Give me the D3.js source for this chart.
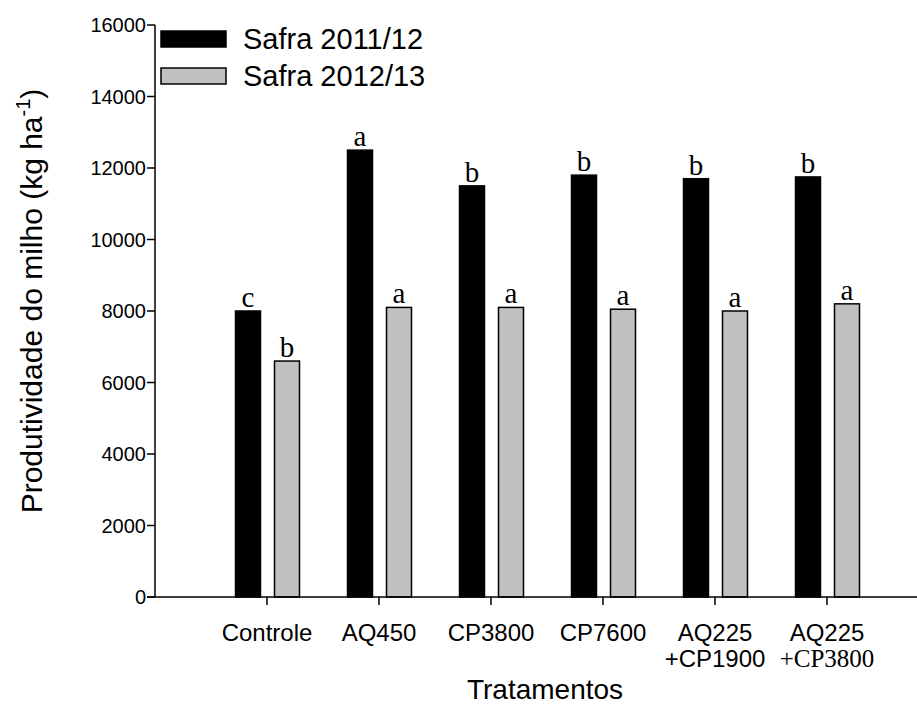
<!DOCTYPE html>
<html>
<head>
<meta charset="utf-8">
<script src="https://cdn.jsdelivr.net/npm/d3@7"></script>
<style>
  body { margin: 0; background: #fff; }
  svg { display: block; }
  text { font-family: Arial, "Liberation Sans", sans-serif; fill: #000; }
  .serif { font-family: "Times New Roman", "Liberation Serif", serif; }
</style>
</head>
<body>
<svg id="chart" width="917" height="706"></svg>
<script>
// data
const categories = ["Controle", "AQ450", "CP3800", "CP7600", "AQ225\n+CP1900", "AQ225\n+CP3800"];
const safra2011 = [8000, 12500, 11500, 11800, 11700, 11750];
const safra2012 = [6600, 8100, 8100, 8050, 8000, 8200];
const letters2011 = ["c", "a", "b", "b", "b", "b"];
const letters2012 = ["b", "a", "a", "a", "a", "a"];
const seriesNames = ["Safra 2011/12", "Safra 2012/13"];
const seriesColors = ["#000000", "#c0c0c0"];
const yTicks = [0, 2000, 4000, 6000, 8000, 10000, 12000, 14000, 16000];

const svg = d3.select("#chart");
const W = 917;

const x = d3.scaleLinear().domain([0, 7]).range([155, 939]);
const y = d3.scaleLinear().domain([0, 16000]).range([597, 25]);
const barW = 25;
const offsets = [-19, 20];

// bars
const series = [safra2011, safra2012];
const letterSets = [letters2011, letters2012];
series.forEach((vals, s) => {
    svg.append("g").selectAll("rect")
        .data(vals)
        .join("rect")
        .attr("x", (d, i) => x(i + 1) + offsets[s] - barW / 2)
        .attr("y", d => y(d))
        .attr("width", barW)
        .attr("height", d => y(0) - y(d))
        .attr("fill", seriesColors[s])
        .attr("stroke", "#000")
        .attr("stroke-width", 1.5);

    svg.append("g").selectAll("text")
        .data(vals)
        .join("text")
        .attr("class", "serif")
        .attr("x", (d, i) => x(i + 1) + offsets[s])
        .attr("y", d => y(d) - 4)
        .attr("text-anchor", "middle")
        .attr("font-size", 29)
        .text((d, i) => letterSets[s][i]);
});

// y axis
svg.append("line")
    .attr("x1", 155).attr("x2", 155)
    .attr("y1", y(16000)).attr("y2", y(0))
    .attr("stroke", "#000").attr("stroke-width", 1.5);
const yg = svg.append("g");
yg.selectAll("line").data(yTicks).join("line")
    .attr("x1", 147).attr("x2", 155)
    .attr("y1", d => y(d)).attr("y2", d => y(d))
    .attr("stroke", "#000").attr("stroke-width", 1.5);
yg.selectAll("text").data(yTicks).join("text")
    .attr("x", 146)
    .attr("y", d => y(d) + 7)
    .attr("text-anchor", "end")
    .attr("font-size", 20)
    .text(d => d);

// x axis
svg.append("line")
    .attr("x1", 147).attr("x2", W)
    .attr("y1", y(0)).attr("y2", y(0))
    .attr("stroke", "#000").attr("stroke-width", 1.5);
const xg = svg.append("g");
xg.selectAll("line").data(categories).join("line")
    .attr("x1", (d, i) => x(i + 1)).attr("x2", (d, i) => x(i + 1))
    .attr("y1", y(0)).attr("y2", y(0) + 8)
    .attr("stroke", "#000").attr("stroke-width", 1.5);
// one text per line so the two-line labels stack cleanly
categories.forEach((d, i) => {
    d.split("\n").forEach((p, k) => {
        xg.append("text")
            .attr("class", k === 1 && i === 5 ? "serif" : null)
            .attr("x", x(i + 1))
            .attr("y", 641 + k * 26)
            .attr("text-anchor", "middle")
            .attr("font-size", k === 1 && i === 5 ? 25 : 24)
            .text(p);
    });
});

// axis titles
svg.append("text")
    .attr("x", 545).attr("y", 699)
    .attr("text-anchor", "middle")
    .attr("font-size", 28)
    .text("Tratamentos");

const yl = svg.append("text")
    .attr("transform", "translate(42,301) rotate(-90)")
    .attr("text-anchor", "middle")
    .attr("font-size", 30);
yl.append("tspan").text("Produtividade do milho (kg ha");
yl.append("tspan").attr("font-size", 20).attr("dy", -12).text("-1");
yl.append("tspan").attr("dy", 12).text(")");

// legend
const lg = svg.append("g");
seriesNames.forEach((name, s) => {
    const ly = 31 + s * 37;
    lg.append("rect")
        .attr("x", 161).attr("y", ly)
        .attr("width", 65).attr("height", 16)
        .attr("fill", seriesColors[s])
        .attr("stroke", "#000").attr("stroke-width", 1.5);
    lg.append("text")
        .attr("x", 243).attr("y", ly + 18)
        .attr("font-size", 29)
        .text(name);
});
</script>
</body>
</html>
